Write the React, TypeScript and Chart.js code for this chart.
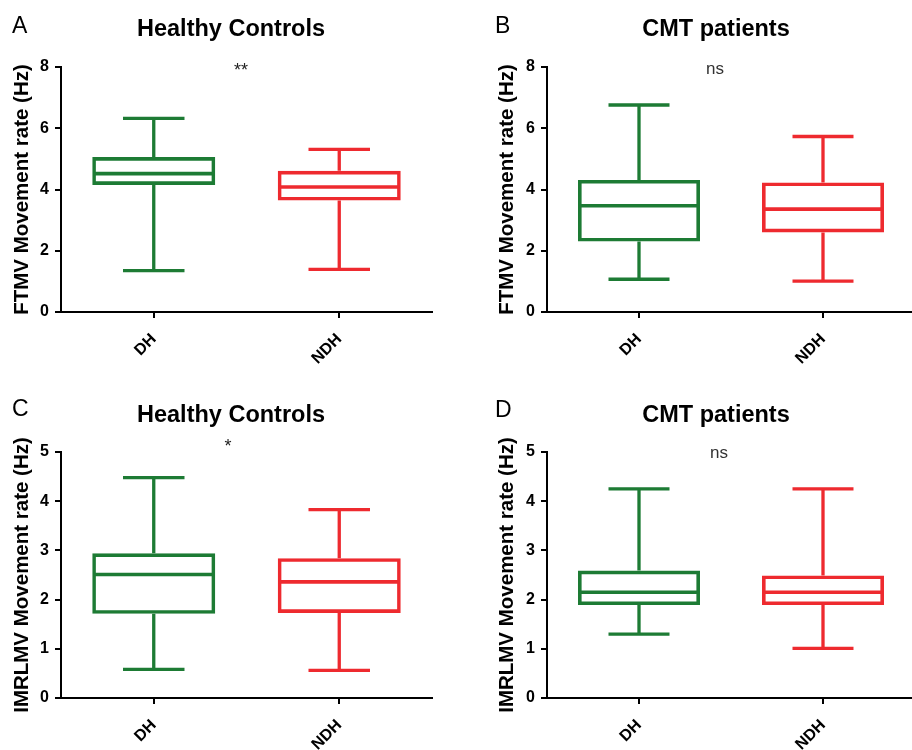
import React, { useEffect, useRef } from 'react';
import { Chart, registerables } from 'chart.js';

Chart.register(...registerables);

const FONT = '"Liberation Sans", Arial, Helvetica, sans-serif';
const GREEN = '#1d7b34';
const RED = '#ee2a2f';

// categories
const categories = ['DH', 'NDH'];
const boxColors = [GREEN, RED];

// [min, Q1, median, Q3, max]
const ftmvHealthyDH = [1.35, 4.15, 4.52, 5.06, 6.32];
const ftmvHealthyNDH = [1.39, 3.64, 4.08, 4.61, 5.31];
const ftmvCmtDH = [1.07, 2.3, 3.47, 4.31, 6.76];
const ftmvCmtNDH = [1.01, 2.6, 3.36, 4.23, 5.73];
const imrlmvHealthyDH = [0.58, 1.71, 2.51, 2.94, 4.48];
const imrlmvHealthyNDH = [0.56, 1.73, 2.36, 2.84, 3.83];
const imrlmvCmtDH = [1.3, 1.89, 2.15, 2.59, 4.25];
const imrlmvCmtNDH = [1.01, 1.89, 2.15, 2.49, 4.25];

// tick values
const ftmvTicks = [0, 2, 4, 6, 8];
const imrlmvTicks = [0, 1, 2, 3, 4, 5];

// texts
const panelLetters = ['A', 'B', 'C', 'D'];
const panelTitles = ['Healthy Controls', 'CMT patients', 'Healthy Controls', 'CMT patients'];
const yTitles = [
  'FTMV Movement rate (Hz)',
  'FTMV Movement rate (Hz)',
  'IMRLMV Movement rate (Hz)',
  'IMRLMV Movement rate (Hz)',
];
const significance = ['**', 'ns', '*', 'ns'];

const CW = 462;
const CH = 375;

type PanelCfg = {
  x: number;
  y: number;
  stats: number[][];
  ticks: number[];
  letter: string;
  title: string;
  yTitle: string;
  sig: string;
  area: { left: number; right: number; top: number; bottom: number };
  yTitlePad: number;
  letterPos: [number, number];
  titlePos: [number, number];
  sigPos: [number, number];
};

function Panel({ cfg }: { cfg: PanelCfg }) {
  const ref = useRef<HTMLCanvasElement | null>(null);
  useEffect(() => {
    if (!ref.current) return;
    const { stats, ticks, area } = cfg;
    const extras = {
      id: 'boxExtras',
      afterDatasetsDraw(chart: any) {
        const { ctx } = chart;
        const ys = chart.scales.y;
        const meta = chart.getDatasetMeta(0);
        meta.data.forEach((bar: any, i: number) => {
          const s = stats[i];
          const { x, width } = bar.getProps(['x', 'width'], true);
          const pMin = ys.getPixelForValue(s[0]);
          const pQ1 = ys.getPixelForValue(s[1]);
          const pMed = ys.getPixelForValue(s[2]);
          const pQ3 = ys.getPixelForValue(s[3]);
          const pMax = ys.getPixelForValue(s[4]);
          ctx.save();
          ctx.strokeStyle = boxColors[i];
          ctx.lineCap = 'butt';
          ctx.lineWidth = 3.3;
          ctx.beginPath();
          ctx.moveTo(x, pQ3);
          ctx.lineTo(x, pMax);
          ctx.moveTo(x, pQ1);
          ctx.lineTo(x, pMin);
          ctx.moveTo(x - width / 4, pMax);
          ctx.lineTo(x + width / 4, pMax);
          ctx.moveTo(x - width / 4, pMin);
          ctx.lineTo(x + width / 4, pMin);
          ctx.stroke();
          ctx.lineWidth = 3.6;
          ctx.beginPath();
          ctx.moveTo(x - width / 2 + 1, pMed);
          ctx.lineTo(x + width / 2 - 1, pMed);
          ctx.stroke();
          ctx.restore();
        });
      },
      afterDraw(chart: any) {
        const { ctx } = chart;
        ctx.save();
        ctx.fillStyle = '#000';
        ctx.textBaseline = 'alphabetic';
        ctx.textAlign = 'left';
        ctx.font = `23px ${FONT}`;
        ctx.fillText(cfg.letter, cfg.letterPos[0], cfg.letterPos[1]);
        ctx.textAlign = 'center';
        ctx.font = `bold 23.5px ${FONT}`;
        ctx.fillText(cfg.title, cfg.titlePos[0], cfg.titlePos[1]);
        if (cfg.sig === 'ns') {
          ctx.fillStyle = '#333';
          ctx.font = `17px ${FONT}`;
        } else {
          ctx.fillStyle = '#222';
          ctx.font = `18px ${FONT}`;
        }
        ctx.fillText(cfg.sig, cfg.sigPos[0], cfg.sigPos[1]);
        ctx.restore();
      },
    };

    const chart = new Chart(ref.current, {
      type: 'bar',
      data: {
        labels: categories,
        datasets: [
          {
            data: stats.map((s) => [s[1], s[3]]) as any,
            backgroundColor: 'rgba(0,0,0,0)',
            borderColor: boxColors,
            borderWidth: 3.6,
            borderSkipped: false,
            barPercentage: 0.663,
            categoryPercentage: 1,
          },
        ],
      },
      options: {
        responsive: false,
        animation: false,
        devicePixelRatio: 1,
        layout: { padding: { top: area.top, right: CW - area.right, left: 0, bottom: 0 } },
        plugins: { legend: { display: false }, tooltip: { enabled: false }, title: { display: false } },
        scales: {
          x: {
            type: 'category',
            offset: true,
            grid: {
              display: true,
              offset: false,
              drawOnChartArea: false,
              drawTicks: true,
              tickLength: 6,
              tickWidth: 2,
              color: '#000',
              lineWidth: 2,
            },
            border: { display: true, color: '#000', width: 2 },
            ticks: {
              autoSkip: false,
              minRotation: 45,
              maxRotation: 45,
              padding: 12,
              color: '#000',
              font: { family: FONT, size: 16, weight: 'bold' },
            },
            afterFit(scale: any) {
              scale.height = CH - area.bottom;
            },
          },
          y: {
            min: ticks[0],
            max: ticks[ticks.length - 1],
            afterBuildTicks(scale: any) {
              scale.ticks = ticks.map((v) => ({ value: v }));
            },
            grid: {
              display: true,
              drawOnChartArea: false,
              drawTicks: true,
              tickLength: 6,
              tickWidth: 2,
              color: '#000',
              lineWidth: 2,
            },
            border: { display: true, color: '#000', width: 2 },
            ticks: {
              padding: 6,
              color: '#000',
              font: { family: FONT, size: 16, weight: 'bold' },
            },
            title: {
              display: true,
              text: cfg.yTitle,
              color: '#000',
              padding: { top: cfg.yTitlePad, bottom: 0 },
              font: { family: FONT, size: 20.5, weight: 'bold' },
            },
            afterFit(scale: any) {
              scale.width = area.left;
            },
          },
        },
      },
      plugins: [extras],
    } as any);
    return () => chart.destroy();
  }, [cfg]);

  return (
    <canvas
      ref={ref}
      width={CW}
      height={CH}
      style={{ position: 'absolute', left: cfg.x, top: cfg.y, width: CW, height: CH, display: 'block' }}
    />
  );
}

const panels: PanelCfg[] = [
  {
    x: 0, y: 0,
    stats: [ftmvHealthyDH, ftmvHealthyNDH], ticks: ftmvTicks,
    letter: panelLetters[0], title: panelTitles[0], yTitle: yTitles[0], sig: significance[0],
    area: { left: 61, right: 432, top: 67, bottom: 312 },
    yTitlePad: 10.5, letterPos: [12, 33], titlePos: [231, 36], sigPos: [241, 76],
  },
  {
    x: 456, y: 0,
    stats: [ftmvCmtDH, ftmvCmtNDH], ticks: ftmvTicks,
    letter: panelLetters[1], title: panelTitles[1], yTitle: yTitles[1], sig: significance[1],
    area: { left: 91, right: 459, top: 67, bottom: 312 },
    yTitlePad: 39, letterPos: [39, 33], titlePos: [260, 36], sigPos: [259, 74],
  },
  {
    x: 0, y: 375,
    stats: [imrlmvHealthyDH, imrlmvHealthyNDH], ticks: imrlmvTicks,
    letter: panelLetters[2], title: panelTitles[2], yTitle: yTitles[2], sig: significance[2],
    area: { left: 61, right: 432, top: 77, bottom: 323 },
    yTitlePad: 10.5, letterPos: [12, 41], titlePos: [231, 47], sigPos: [228, 77],
  },
  {
    x: 456, y: 375,
    stats: [imrlmvCmtDH, imrlmvCmtNDH], ticks: imrlmvTicks,
    letter: panelLetters[3], title: panelTitles[3], yTitle: yTitles[3], sig: significance[3],
    area: { left: 91, right: 459, top: 77, bottom: 323 },
    yTitlePad: 39, letterPos: [39, 42], titlePos: [260, 47], sigPos: [263, 83],
  },
];

export default function App() {
  return (
    <div
      style={{
        position: 'fixed',
        left: 0,
        top: 0,
        width: 912,
        height: 750,
        overflow: 'hidden',
        background: '#fff',
      }}
    >
      {panels.map((p, i) => (
        <Panel key={i} cfg={p} />
      ))}
    </div>
  );
}
